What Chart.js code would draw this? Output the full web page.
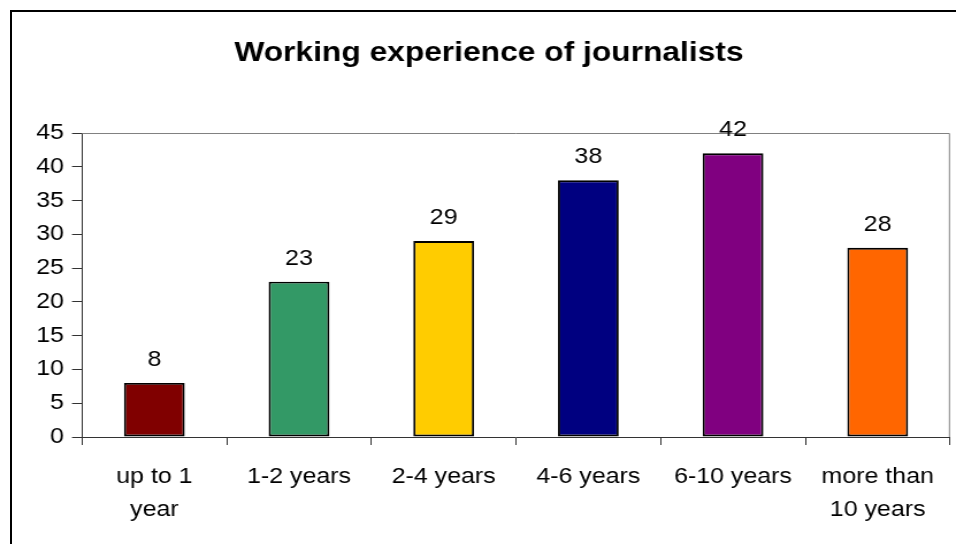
<!DOCTYPE html>
<html>
<head>
<meta charset="utf-8">
<script src="https://cdn.jsdelivr.net/npm/chart.js@4"></script>
<style>
  html, body { margin: 0; padding: 0; background: #fff; overflow: hidden; }
  #wrap { position: absolute; left: 0; top: 0; width: 831px; height: 544px;
          transform: scaleX(1.1504); transform-origin: 0 0; }
  #frame { position: absolute; left: 10px; top: 10px; width: 1000px; height: 600px;
           border-left: 2px solid #000; border-top: 2px solid #000; pointer-events: none; }
</style>
</head>
<body>
<div id="wrap"><canvas id="expChart" width="831" height="544"></canvas></div>
<div id="frame"></div>
<script>
const categories = [["up to 1", "year"], "1-2 years", "2-4 years", "4-6 years", "6-10 years", ["more than", "10 years"]];
const journalists = [8, 23, 29, 38, 42, 28];
const barColors = ["#800000", "#339966", "#FFCC00", "#000080", "#800080", "#FF6600"];
const yTicks = [0, 5, 10, 15, 20, 25, 30, 35, 40, 45];

const fontFamily = "'Liberation Sans', Arial, sans-serif";

// value labels over the bars + light frame on top/right of plot
const labelsPlugin = {
  id: "valueLabels",
  beforeDatasetsDraw(chart) {
    const { ctx, chartArea } = chart;
    ctx.save();
    ctx.strokeStyle = "#808080";
    ctx.lineWidth = 1;
    ctx.beginPath();
    ctx.moveTo(chartArea.left, chartArea.top + 0.5);
    ctx.lineTo(chartArea.right - 0.5, chartArea.top + 0.5);
    ctx.lineTo(chartArea.right - 0.5, chartArea.bottom);
    ctx.stroke();
    ctx.restore();
  },
  afterDatasetsDraw(chart) {
    const { ctx } = chart;
    const meta = chart.getDatasetMeta(0);
    ctx.save();
    ctx.font = "21.7px " + fontFamily;
    ctx.fillStyle = "#000";
    ctx.textAlign = "center";
    ctx.textBaseline = "alphabetic";
    meta.data.forEach((bar, i) => {
      ctx.fillText(String(journalists[i]), bar.x, bar.y - 17);
    });
    ctx.restore();
  }
};

const config = {
  type: "bar",
  data: {
    labels: categories,
    datasets: [{
      data: journalists,
      backgroundColor: barColors,
      borderColor: "#000",
      borderWidth: 1.9,
      borderSkipped: false,
      barPercentage: 0.42,
      categoryPercentage: 1
    }]
  },
  options: {
    responsive: false,
    devicePixelRatio: 1,
    animation: false,
    // left padding pushes the title centre right, y axis narrowed to keep the plot in place
    layout: { padding: { left: 24.2, right: 5.2, top: 0, bottom: 0 } },
    plugins: {
      legend: { display: false },
      tooltip: { enabled: false },
      title: {
        display: true,
        text: "Working experience of journalists",
        color: "#000",
        font: { family: fontFamily, size: 27.6, weight: "bold" },
        padding: { top: 36.5, bottom: 63.4 }
      }
    },
    scales: {
      y: {
        min: 0,
        max: 45,
        afterBuildTicks(scale) {
          scale.ticks = yTicks.map(v => ({ value: v }));
        },
        afterFit(scale) { scale.width = 47.1; },
        border: { display: true, color: "#333", width: 1 },
        grid: { display: true, drawOnChartArea: false, drawTicks: true, tickLength: 8.7, color: "#333" },
        ticks: { color: "#000", padding: 7, font: { family: fontFamily, size: 21.7 } }
      },
      x: {
        afterFit(scale) { scale.height = 107; },
        border: { display: true, color: "#333", width: 1 },
        grid: { display: true, offset: true, drawOnChartArea: false, drawTicks: true, tickLength: 8, color: "#333" },
        ticks: { color: "#000", padding: 16, maxRotation: 0, autoSkip: false,
                 font: { family: fontFamily, size: 21.7, lineHeight: 1.52 } }
      }
    }
  },
  plugins: [labelsPlugin]
};

new Chart(document.getElementById("expChart").getContext("2d"), config);
</script>
</body>
</html>
